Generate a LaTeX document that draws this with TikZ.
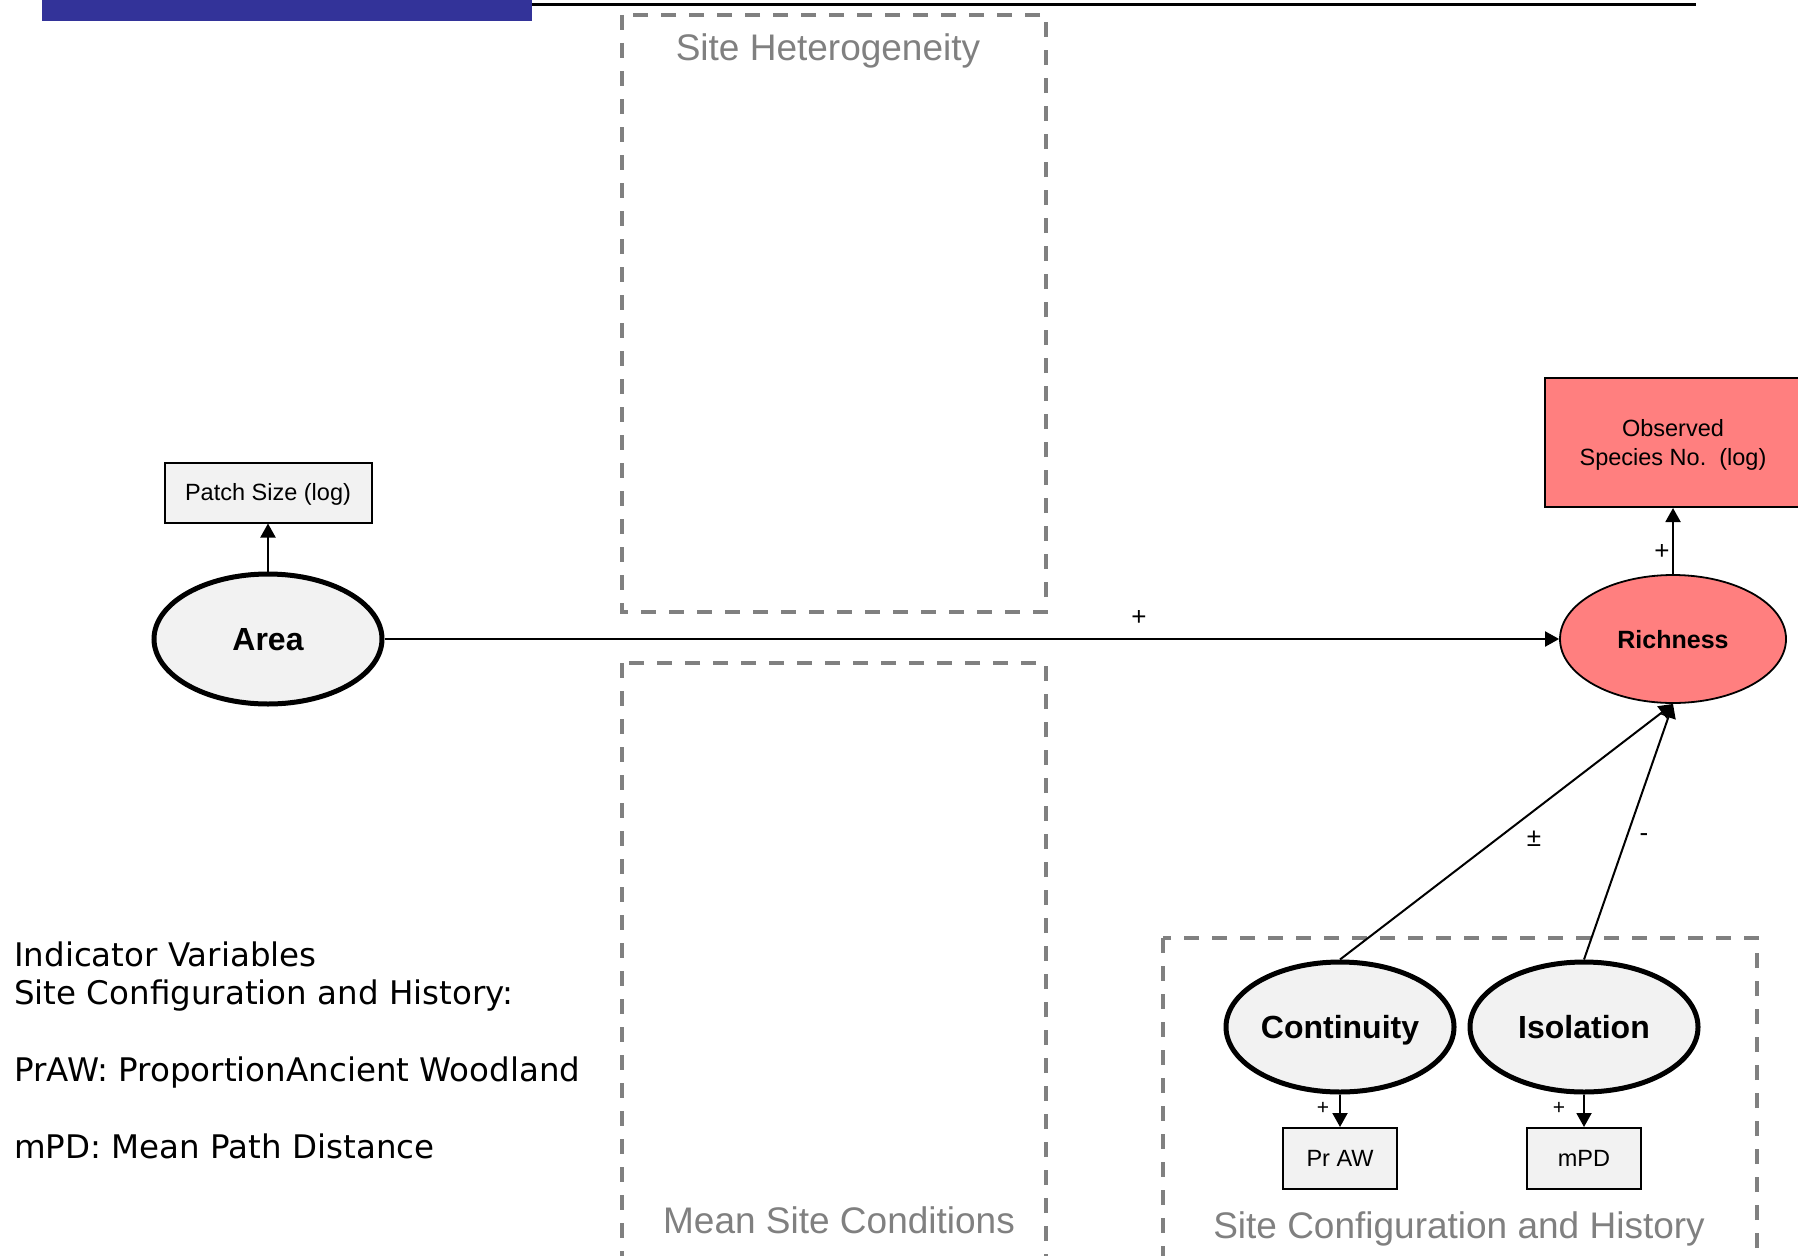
\documentclass[tikz,border=0pt]{standalone}
\usepackage{fontspec}
\setmainfont{Liberation Sans}
\newfontfamily\legendfont{DejaVu Sans}
\usetikzlibrary{arrows.meta,shapes.geometric}
\definecolor{barblue}{HTML}{333399}
\definecolor{salmonfill}{HTML}{FF7F7F}
\definecolor{lvfill}{HTML}{F2F2F2}
\definecolor{grouptext}{HTML}{808080}
\newcommand{\myfs}[2]{\fontsize{#1}{#2}\selectfont}
\begin{document}
\begin{tikzpicture}[x=1pt,y=-1pt,
  latent/.style={ellipse, draw=black, line width=5pt, fill=lvfill, minimum width=228pt, minimum height=130pt, inner sep=0pt, text height=23pt, text depth=0pt, font=\myfs{32}{38}\bfseries},
  target/.style={ellipse, draw=black, line width=1.8pt, fill=salmonfill, minimum width=226pt, minimum height=128pt, inner sep=0pt, text height=18pt, text depth=0pt, font=\myfs{25}{30}\bfseries},
  indicator/.style={rectangle, draw=black, line width=2pt, fill=lvfill, inner sep=0pt, text height=16.8pt, text depth=0pt, font=\myfs{23.5}{28}},
  groupbox/.style={draw=grouptext, line width=3.5pt, dash pattern=on 15pt off 13pt},
  grouplabel/.style={text=grouptext, font=\myfs{37}{44}, inner sep=0pt, anchor=base},
  sem/.style={line width=2pt, -{Triangle[length=14pt,width=15pt]}},
  bigsign/.style={font=\myfs{26}{30}, inner sep=0pt},
  smallsign/.style={font=\myfs{21}{25}, inner sep=0pt},
  legend/.style={font=\legendfont\myfs{32.5}{38}, inner sep=0pt, anchor=base west},
]
\useasboundingbox (0,0) rectangle (1798,1255);
\clip (0,0) rectangle (1798,1255);

% header
\fill[barblue] (42,0) rectangle (532,21);
\draw[line width=2.5pt] (532,4.5) -- (1696,4.5);

% group boxes
\draw[groupbox] (622,15) rectangle (1046,612);
\draw[groupbox] (622,663) rectangle (1046,1300);
\draw[groupbox] (1163,938) rectangle (1757,1300);
\node[grouplabel] (lhet) at (828,61) {Site Heterogeneity};
\node[grouplabel] (lmsc) at (839,1233) {Mean Site Conditions};
\node[grouplabel] (lsch) at (1459,1238) {Site Configuration and History};

% nodes
\node[latent] (area) at (268,639) {Area};
\node[indicator, minimum width=207pt, minimum height=60pt] (patch) at (268,492.5) {Patch Size (log)};
\node[target] (rich) at (1673,639) {Richness};
\node[rectangle, draw=black, line width=2pt, fill=salmonfill, minimum width=256pt, minimum height=129pt] (obs) at (1673,442.5) {};
\node[font=\myfs{23.5}{28.5}, align=center, inner sep=0pt] (obstext) at (1673,445) {Observed\\Species No.\ \ (log)};
\node[latent] (cont) at (1340,1027) {Continuity};
\node[latent] (iso) at (1584,1027) {Isolation};
\node[indicator, minimum width=114pt, minimum height=61pt] (praw) at (1340,1158.5) {Pr AW};
\node[indicator, minimum width=114pt, minimum height=61pt] (mpd) at (1584,1158.5) {mPD};

% connectors
\draw[sem] (area) -- (rich);
\draw[sem] (area) -- (patch);
\draw[sem] (rich) -- (obs);
\draw[sem] (cont.north) -- (rich.south);
\draw[sem] (iso.north) -- (rich.south);
\draw[sem] (cont) -- (praw);
\draw[sem] (iso) -- (mpd);

% signs
\node[bigsign] (s1) at (1139,618) {+};
\node[bigsign] (s2) at (1662,552) {+};
\node[bigsign] (s3) at (1534,839) {±};
\node[bigsign] (s4) at (1644,838) {-};
\node[smallsign] (s5) at (1323,1108) {+};
\node[smallsign] (s6) at (1559,1108) {+};

% legend
\node[legend] (l1) at (14,966) {Indicator Variables};
\node[legend] (l2) at (14,1004.5) {Site Configuration and History:};
\node[legend] (l3) at (14,1081.5) {PrAW: ProportionAncient Woodland};
\node[legend] (l4) at (14,1158.5) {mPD: Mean Path Distance};
\end{tikzpicture}
\end{document}
